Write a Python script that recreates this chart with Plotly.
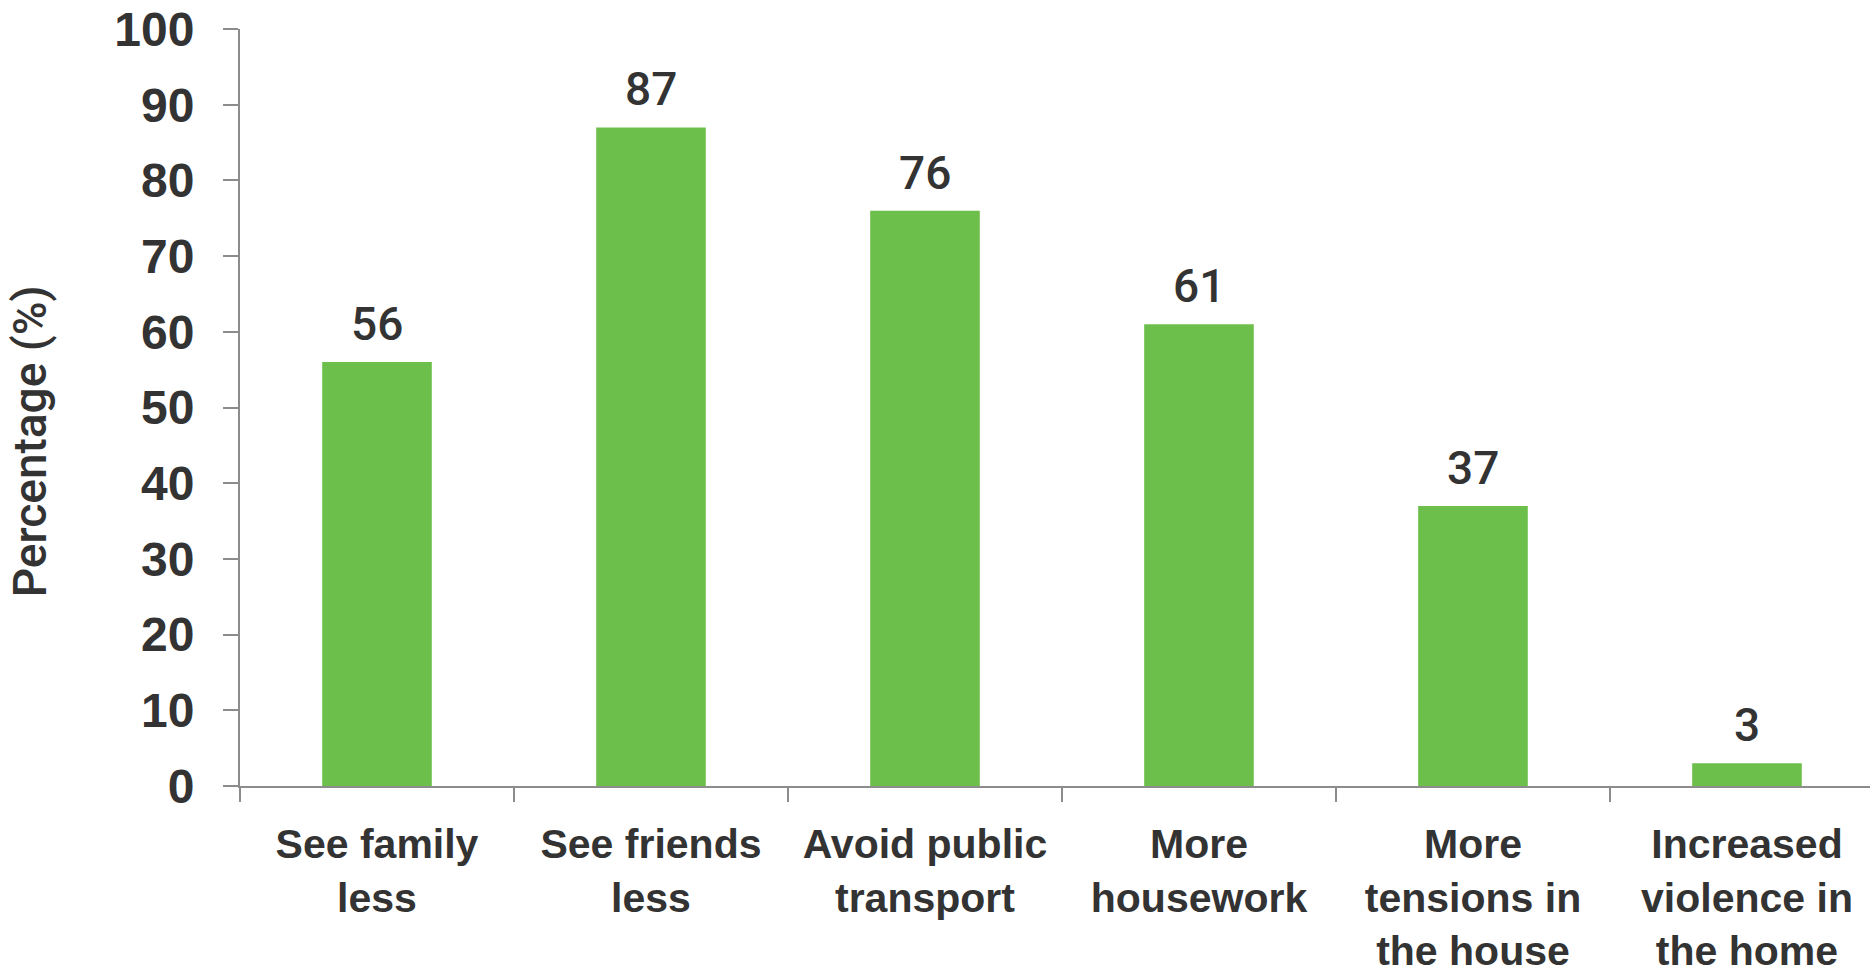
import plotly.graph_objects as go

# Survey responses: share of respondents reporting each change
categories = [
    "See family<br>less",
    "See friends<br>less",
    "Avoid public<br>transport",
    "More<br>housework",
    "More<br>tensions in<br>the house",
    "Increased<br>violence in<br>the home",
]
percentages = [56, 87, 76, 61, 37, 3]
y_ticks = [0, 10, 20, 30, 40, 50, 60, 70, 80, 90, 100]
y_title = "Percentage (%)"

BAR_COLOR = "#6cbf4b"
AXIS_COLOR = "#8c8c8c"
TEXT_COLOR = "#333333"
SANS = "Liberation Sans, Arial, sans-serif"
MEDIUM = "Roboto, Liberation Sans, sans-serif"

fig = go.Figure(
    go.Bar(
        x=categories,
        y=percentages,
        marker=dict(color=BAR_COLOR, line=dict(width=0)),
        width=0.4,
        hoverinfo="x+y",
    )
)

# Value labels above each bar
for cat, val in zip(categories, percentages):
    fig.add_annotation(
        x=cat, y=val, text=str(val), showarrow=False,
        yanchor="bottom", yshift=9,
        font=dict(family=MEDIUM, size=46, color=TEXT_COLOR, weight=500),
    )

# Vertical axis title, set slightly below the plot's vertical centre
fig.add_annotation(
    xref="paper", yref="paper", x=-0.129, y=0.455,
    text=y_title, textangle=-90, showarrow=False,
    xanchor="center", yanchor="middle",
    font=dict(family=MEDIUM, size=46, color=TEXT_COLOR, weight=500),
)

fig.update_layout(
    width=1870,
    height=973,
    margin=dict(l=240, r=0, t=29, b=187, pad=0),
    paper_bgcolor="white",
    plot_bgcolor="white",
    showlegend=False,
    bargap=0.6,
)

fig.update_xaxes(
    type="category",
    range=[-0.5, 5.449],
    showline=True, linecolor=AXIS_COLOR, linewidth=2,
    ticks="outside", tickson="boundaries", ticklen=14,
    tickcolor=AXIS_COLOR, tickwidth=2,
    showgrid=False, zeroline=False,
    tickfont=dict(family=SANS, size=41, color=TEXT_COLOR, weight="bold"),
    ticklabelstandoff=21,
)

fig.update_yaxes(
    range=[0, 100],
    tickvals=y_ticks,
    showline=True, linecolor=AXIS_COLOR, linewidth=2,
    ticks="outside", ticklen=15, tickcolor=AXIS_COLOR, tickwidth=2,
    showgrid=False, zeroline=False,
    tickfont=dict(family=SANS, size=48, color=TEXT_COLOR, weight="bold"),
    ticklabelstandoff=19,
)

fig.write_html("out.html")
